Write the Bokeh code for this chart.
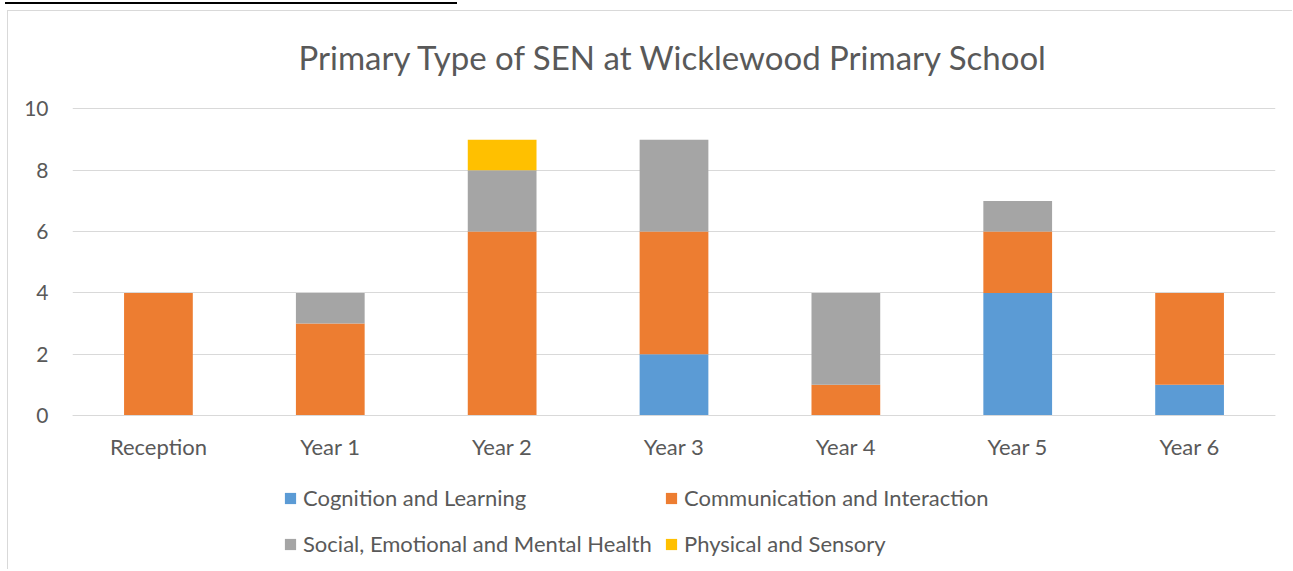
from bokeh.plotting import figure
from bokeh.models import (ColumnDataSource, Range1d, FactorRange, Legend, LegendItem, Label,
                          FixedTicker, Div)
from bokeh.layouts import column
from bokeh.embed import file_html
from bokeh.resources import INLINE

years = ["Reception", "Year 1", "Year 2", "Year 3", "Year 4", "Year 5", "Year 6"]
series_names = ["Cognition and Learning", "Communication and Interaction",
                "Social, Emotional and Mental Health", "Physical and Sensory"]
cognition = [0, 0, 0, 2, 0, 4, 1]
communication = [4, 3, 6, 4, 1, 2, 3]
social = [0, 1, 2, 3, 3, 1, 0]
physical = [0, 0, 1, 0, 0, 0, 0]
y_ticks = [0, 2, 4, 6, 8, 10]
colors = ["#5B9BD5", "#ED7D31", "#A5A5A5", "#FFC000"]
title_text = "Primary Type of SEN at Wicklewood Primary School"

FONT = "Lato"
TXT = "#595959"

keys = ["cog", "com", "soc", "phy"]
source = ColumnDataSource(dict(years=years, cog=cognition, com=communication, soc=social, phy=physical))

# frame spans the full canvas height; the visible value axis 0..10 sits inside it
p = figure(x_range=FactorRange(*years), y_range=Range1d(-5.057, 13.181),
           width=1285, height=559, output_backend="svg", toolbar_location=None,
           min_border_left=64, min_border_right=18, min_border_top=0, min_border_bottom=0)
p.styles = {"margin-left": "7px", "margin-top": "1px",
            "border-left": "1px solid #d9d9d9", "border-top": "1px solid #d9d9d9"}
p.x_range.range_padding = 0
p.outline_line_color = None
p.background_fill_color = "white"
p.border_fill_color = "white"

renderers = p.vbar_stack(keys, x="years", width=0.4, color=colors, source=source, line_color=None)

p.yaxis.ticker = FixedTicker(ticks=y_ticks)
p.ygrid.grid_line_color = "#D9D9D9"
p.ygrid.grid_line_width = 1
p.xgrid.grid_line_color = None
for ax in (p.xaxis[0], p.yaxis[0]):
    ax.major_tick_line_color = None
    ax.minor_tick_line_color = None
    ax.major_label_text_font = FONT
    ax.major_label_text_color = TXT
p.xaxis.fixed_location = 0
p.xaxis.major_label_text_font_size = "22px"
p.yaxis.major_label_text_font_size = "21px"
p.yaxis.axis_line_color = None
p.xaxis.axis_line_color = "#D9D9D9"
p.yaxis.major_label_standoff = 18
p.xaxis.major_label_standoff = 11

p.add_layout(Label(x=601.5, y=514, x_units="screen", y_units="screen", text=title_text,
                   text_align="center", text_baseline="middle", text_font=FONT,
                   text_font_size="33px", text_color=TXT))

def mk_legend(items, x, y):
    lg = Legend(items=items, location=(x, y), orientation="vertical",
                padding=0, margin=0, border_line_color=None, background_fill_alpha=0,
                glyph_width=14, glyph_height=14, label_standoff=6, spacing=19,
                label_text_font=FONT, label_text_font_size="22px", label_text_color=TXT,
                label_height=26)
    p.add_layout(lg, "center")

mk_legend([LegendItem(label=series_names[0], renderers=[renderers[0]]),
           LegendItem(label=series_names[2], renderers=[renderers[2]])], 211, 13)
mk_legend([LegendItem(label=series_names[1], renderers=[renderers[1]]),
           LegendItem(label=series_names[3], renderers=[renderers[3]])], 592, 13)

# underline of the document heading above the chart
rule = Div(text="", width=452, height=2, styles={"background-color": "#000000", "margin-top": "2px"})

layout = column(rule, p, spacing=0)
open("out.html", "w").write(file_html(layout, INLINE))
